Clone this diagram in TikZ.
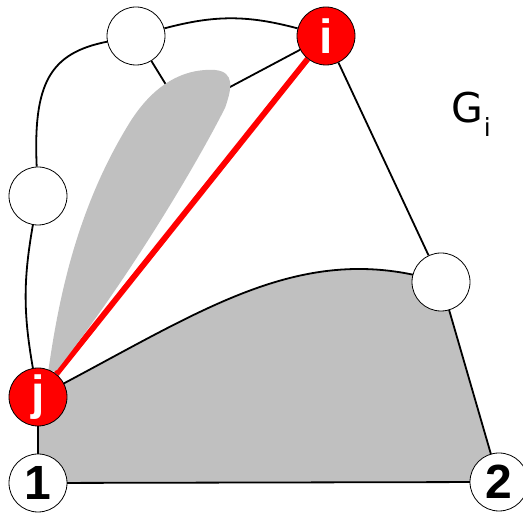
\documentclass[tikz,border=0pt]{standalone}
\usepackage{fontspec}
\setmainfont{Liberation Sans}
\newfontfamily\labelfont{DejaVu Sans}
\usetikzlibrary{backgrounds}
\definecolor{graphRed}{RGB}{255,0,0}
\definecolor{graphGray}{RGB}{192,192,192}
\tikzset{
  vertex/.style={circle, draw=black, line width=0.8pt, fill=white, minimum size=58pt,
    inner sep=0pt, font=\fontsize{48}{48}\selectfont\bfseries},
  vertexred/.style={vertex, fill=graphRed, text=white},
  link/.style={draw=black, line width=1.8pt},
  linkred/.style={draw=graphRed, line width=5.8pt},
  region/.style={fill=graphGray}
}
\begin{document}
\begin{tikzpicture}[x=1pt,y=1pt]
  \useasboundingbox (0,0) rectangle (523,513);
  \node[vertex] (vtop) at (136,477) {};
  \node[vertexred] (vi) at (326,477) {i};
  \node[vertex] (vleft) at (38,317) {};
  \node[vertexred] (vj) at (38,116) {j};
  \node[vertex] (vright) at (441,231) {};
  \node[vertex] (v1) at (38,30) {1};
  \node[vertex] (v2) at (499,31) {2};
  \node[anchor=base west, inner sep=0pt, font=\labelfont\fontsize{41}{41}\selectfont] (gi) at (451,390)
    {G\kern1pt\raisebox{-14pt}{\fontsize{25}{25}\selectfont i}};
  \coordinate (leafA) at (176,412);
  \coordinate (leafB) at (215,418);
  \begin{scope}[on background layer]
    % shaded face below
    \draw[link, region] (vj.center) .. controls (200,200) and (300,275) .. (vright.center)
      -- (v2.center) -- (v1.center) -- cycle;
    \draw[link] (vtop) to[out=15,in=165] (vi);
    \draw[link] (vtop) .. controls (50,460) and (33,430) .. (vleft);
    \draw[link] (vleft) to[out=260,in=100] (vj);
    \draw[link] (vtop) -- (leafA);
    \draw[link] (vi) -- (leafB);
    \draw[link] (vi) -- (vright);
    \draw[linkred] (vi) -- (vj);
    % shaded leaf
    \fill[graphGray] (48,140) .. controls (58,210) and (75,300) .. (127,386)
      .. controls (150,425) and (180,445) .. (215,443)
      .. controls (235,441) and (232,425) .. (225,405)
      .. controls (192,340) and (125,230) .. (57,143) -- cycle;
  \end{scope}
\end{tikzpicture}
\end{document}
